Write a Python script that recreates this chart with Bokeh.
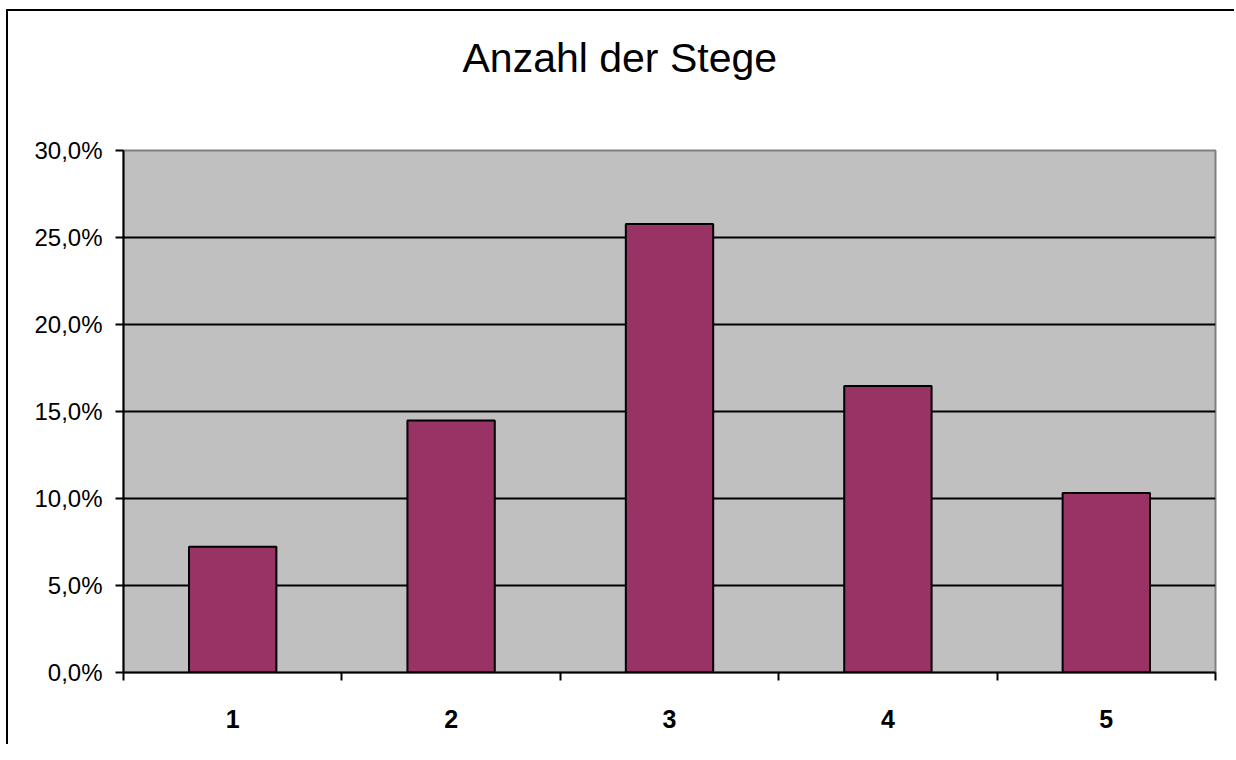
from bokeh.plotting import figure
from bokeh.models import Range1d, FixedTicker, CustomJSTickFormatter, ColumnDataSource, Title
from bokeh.embed import file_html
from bokeh.resources import INLINE

title = "Anzahl der Stege"
categories = ["1", "2", "3", "4", "5"]
shares = [0.0723, 0.1448, 0.2577, 0.1646, 0.1032]
y_ticks = [0.0, 0.05, 0.10, 0.15, 0.20, 0.25, 0.30]

xs = list(range(1, len(categories) + 1))
src = ColumnDataSource(dict(x=xs, top=shares))

p = figure(width=1228, height=735, output_backend="svg", toolbar_location=None, title=None,
           x_range=Range1d(0.5, len(categories) + 0.5), y_range=Range1d(0, 0.30),
           min_border_left=115, min_border_right=21, min_border_top=139, min_border_bottom=74)
p.styles = {"border-left": "2px solid black", "border-top": "2px solid black",
            "margin-left": "6px", "margin-top": "9px",
            "max-width": "none", "overflow": "visible"}
p.background_fill_color = "#C0C0C0"
p.border_fill_color = "white"
p.outline_line_color = "#808080"
p.outline_line_width = 2

spacer = Title(text=" ", text_font="Liberation Sans", text_font_size="41px", standoff=0)
p.add_layout(spacer, "above")
main_title = Title(text=title, align="left", offset=339, standoff=43,
                   text_font="Liberation Sans", text_font_size="41px",
                   text_font_style="normal", text_color="black")
p.add_layout(main_title, "above")

p.vbar(x="x", top="top", width=0.4, bottom=0, source=src,
       fill_color="#993366", line_color="black", line_width=2)

p.xgrid.visible = False
p.ygrid.grid_line_color = "black"
p.ygrid.grid_line_width = 2
p.ygrid.ticker = FixedTicker(ticks=y_ticks)

xa = p.xaxis[0]
xa.ticker = FixedTicker(ticks=xs, minor_ticks=[i + 0.5 for i in range(0, len(categories) + 1)])
xa.major_label_overrides = {x: c for x, c in zip(xs, categories)}
xa.major_tick_out = 0
xa.major_tick_in = 0
xa.minor_tick_out = 8
xa.minor_tick_in = 0
xa.minor_tick_line_color = "black"
xa.minor_tick_line_width = 2
xa.axis_line_color = "black"
xa.axis_line_width = 2
xa.major_label_standoff = 29
xa.major_label_text_font = "Liberation Sans"
xa.major_label_text_font_size = "25px"
xa.major_label_text_font_style = "bold"
xa.major_label_text_color = "black"

ya = p.yaxis[0]
ya.ticker = FixedTicker(ticks=y_ticks)
ya.formatter = CustomJSTickFormatter(code="return (tick*100).toFixed(1).replace('.', ',') + '%';")
ya.major_tick_out = 8
ya.major_tick_in = 0
ya.major_tick_line_width = 2
ya.minor_tick_line_color = None
ya.axis_line_color = "black"
ya.axis_line_width = 2
ya.major_label_standoff = 13
ya.major_label_text_font = "Liberation Sans"
ya.major_label_text_font_size = "24px"
ya.major_label_text_color = "black"

open("out.html", "w").write(file_html(p, INLINE))
